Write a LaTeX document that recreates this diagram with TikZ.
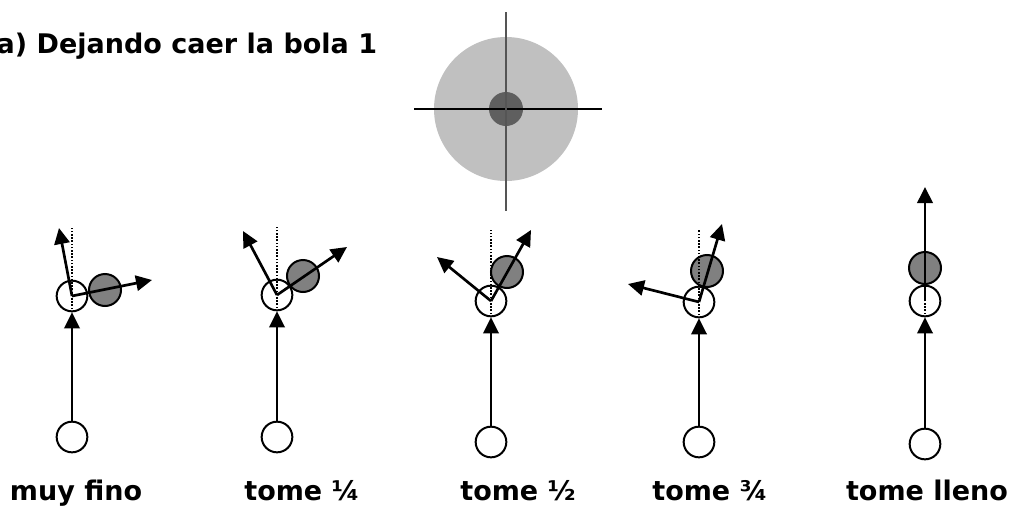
\documentclass[tikz,border=0pt]{standalone}
\usepackage{fontspec}
\setmainfont{DejaVu Sans}
\usetikzlibrary{arrows.meta}

\definecolor{objgrey}{HTML}{808080}
\definecolor{ringlight}{HTML}{C0C0C0}
\definecolor{ringdark}{HTML}{5F5F5F}
\definecolor{crossgrey}{HTML}{555555}

\begin{document}
\begin{tikzpicture}[x=0.75pt, y=-0.75pt,
		cue/.style={circle, draw, line width=1.5pt, fill=white, minimum size=23pt, inner sep=0pt},
		obj/.style={circle, draw, line width=1.5pt, fill=objgrey, minimum size=24pt, inner sep=0pt},
		shot/.style={-{Triangle[length=12pt, width=11.5pt]}, line width=2pt},
		aim/.style={line width=1.1pt, dash pattern=on 1.1pt off 1.3pt},
		lbl/.style={font=\fontsize{20.25}{24}\selectfont\bfseries, anchor=base}]
		\useasboundingbox (0, 0) rectangle (1011, 507);

		\node[lbl, anchor=base west] (title) at (-8, 53) {a) Dejando caer la bola 1};

		\fill[ringlight] (506, 109) circle (72);
		\fill[ringdark] (506, 109) circle (17);
		\draw[line width=1.1pt] (414, 109) -- (602, 109);
		\draw[line width=1.1pt, crossgrey] (506, 12) -- (506, 211);

		\node[cue] (b1) at (72, 437) {};
		\node[cue] (c1) at (72, 296) {};
		\node[obj] (o1) at (105, 290) {};
		\coordinate (d1) at (72, 228);
		\coordinate (p1) at (59, 228);
		\coordinate (q1) at (152, 280);
		\draw[aim] (c1.south) -- (d1);
		\draw[shot] (b1) -- (c1);
		\draw[shot] (c1.center) -- (p1);
		\draw[shot] (c1.center) -- (q1);
		\node[lbl] (t1) at (76, 500) {muy fino};

		\node[cue] (b2) at (277, 437) {};
		\node[cue] (c2) at (277, 295) {};
		\node[obj] (o2) at (303, 276) {};
		\coordinate (d2) at (277, 225);
		\coordinate (p2) at (243, 231);
		\coordinate (q2) at (347, 247);
		\draw[aim] (c2.south) -- (d2);
		\draw[shot] (b2) -- (c2);
		\draw[shot] (c2.center) -- (p2);
		\draw[shot] (c2.center) -- (q2);
		\node[lbl] (t2) at (302, 500) {tome ¼};

		\node[cue] (b3) at (491, 442) {};
		\node[cue] (c3) at (491, 301) {};
		\node[obj] (o3) at (507, 272) {};
		\coordinate (d3) at (491, 230);
		\coordinate (p3) at (437, 257);
		\coordinate (q3) at (531, 230);
		\draw[aim] (c3.south) -- (d3);
		\draw[shot] (b3) -- (c3);
		\draw[shot] (c3.center) -- (p3);
		\draw[shot] (c3.center) -- (q3);
		\node[lbl] (t3) at (518, 500) {tome ½};

		\node[cue] (b4) at (699, 442) {};
		\node[cue] (c4) at (699, 302) {};
		\node[obj] (o4) at (707, 271) {};
		\coordinate (d4) at (699, 230);
		\coordinate (p4) at (628, 284);
		\coordinate (q4) at (722, 224);
		\draw[aim] (c4.south) -- (d4);
		\draw[shot] (b4) -- (c4);
		\draw[shot] (c4.center) -- (p4);
		\draw[shot] (c4.center) -- (q4);
		\node[lbl] (t4) at (710, 500) {tome ¾};

		\node[cue] (b5) at (925, 444) {};
		\node[cue] (c5) at (925, 301) {};
		\node[obj] (o5) at (925, 268) {};
		\coordinate (d5) at (925, 230);
		\coordinate (q5) at (925, 187);
		\draw[aim] (c5.south) -- (d5);
		\draw[shot] (b5) -- (c5);
		\draw[shot] (c5.center) -- (q5);
		\node[lbl] (t5) at (927, 500) {tome lleno};
\end{tikzpicture}
\end{document}
